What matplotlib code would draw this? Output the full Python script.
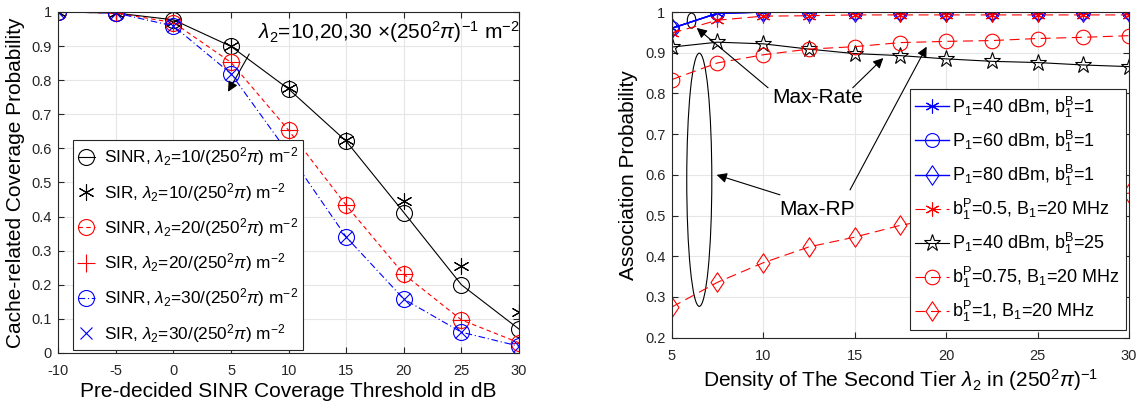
import numpy as np
import matplotlib
matplotlib.use("Agg")
import matplotlib.pyplot as plt
from matplotlib.patches import Ellipse
from matplotlib.path import Path

plt.rcParams['font.family'] = ['Liberation Sans', 'DejaVu Sans']
plt.rcParams['mathtext.fontset'] = 'custom'
plt.rcParams['mathtext.rm'] = 'Liberation Sans'
plt.rcParams['mathtext.it'] = 'Liberation Sans:italic'
plt.rcParams['axes.unicode_minus'] = False

# ---------------- Left chart data ----------------
thr_db = [-10, -5, 0, 5, 10, 15, 20, 25, 30]
sinr_10 = [1.0, 0.997, 0.977, 0.899, 0.774, 0.621, 0.412, 0.200, 0.070]
sir_10 = [1.0, 0.997, 0.972, 0.900, 0.776, 0.625, 0.445, 0.255, 0.120]
sinr_20 = [1.0, 0.997, 0.969, 0.852, 0.653, 0.433, 0.231, 0.097, 0.030]
sir_20 = [1.0, 0.997, 0.969, 0.852, 0.653, 0.433, 0.231, 0.097, 0.030]
sinr_30 = [1.0, 0.997, 0.959, 0.819, 0.585, 0.340, 0.158, 0.061, 0.020]
sir_30 = [1.0, 0.997, 0.959, 0.819, 0.585, 0.340, 0.158, 0.061, 0.020]
left_labels = [
    r'SINR, $\lambda_2$=10/(250$^2\pi$) m$^{-2}$',
    r'SIR, $\lambda_2$=10/(250$^2\pi$) m$^{-2}$',
    r'SINR, $\lambda_2$=20/(250$^2\pi$) m$^{-2}$',
    r'SIR, $\lambda_2$=20/(250$^2\pi$) m$^{-2}$',
    r'SINR, $\lambda_2$=30/(250$^2\pi$) m$^{-2}$',
    r'SIR, $\lambda_2$=30/(250$^2\pi$) m$^{-2}$',
]

# ---------------- Right chart data ----------------
density = [5, 7.5, 10, 12.5, 15, 17.5, 20, 22.5, 25, 27.5, 30]
p40_b1 = [0.960, 0.997, 1.0, 1.0, 1.0, 1.0, 1.0, 1.0, 1.0, 1.0, 1.0]
p60_b1 = [0.960, 0.997, 1.0, 1.0, 1.0, 1.0, 1.0, 1.0, 1.0, 1.0, 1.0]
p80_b1 = [0.960, 0.997, 1.0, 1.0, 1.0, 1.0, 1.0, 1.0, 1.0, 1.0, 1.0]
bp05 = [0.948, 0.980, 0.990, 0.991, 0.993, 0.993, 0.993, 0.993, 0.993, 0.993, 0.993]
p40_b25 = [0.914, 0.926, 0.922, 0.909, 0.898, 0.893, 0.885, 0.879, 0.876, 0.870, 0.866]
bp075 = [0.834, 0.875, 0.895, 0.909, 0.915, 0.925, 0.928, 0.930, 0.935, 0.938, 0.942]
bp1 = [0.275, 0.336, 0.384, 0.423, 0.447, 0.476, 0.497, 0.516, 0.531, 0.544, 0.555]
right_labels = [
    r'P$_1$=40 dBm, b$_1^{\mathrm{B}}$=1',
    r'P$_1$=60 dBm, b$_1^{\mathrm{B}}$=1',
    r'P$_1$=80 dBm, b$_1^{\mathrm{B}}$=1',
    r'b$_1^{\mathrm{P}}$=0.5, B$_1$=20 MHz',
    r'P$_1$=40 dBm, b$_1^{\mathrm{B}}$=25',
    r'b$_1^{\mathrm{P}}$=0.75, B$_1$=20 MHz',
    r'b$_1^{\mathrm{P}}$=1, B$_1$=20 MHz',
]

# tall diamond marker (as in the reference)
tall_diamond = Path([(0, 1.5), (1, 0), (0, -1.5), (-1, 0), (0, 1.5)],
                    [Path.MOVETO, Path.LINETO, Path.LINETO, Path.LINETO, Path.CLOSEPOLY])

fig = plt.figure(figsize=(11.45, 4.05), dpi=100)
axL = fig.add_axes([0.0509, 0.1284, 0.4024, 0.842])
axR = fig.add_axes([0.5866, 0.1662, 0.3994, 0.804])

lw = 0.8
msL = 11.5
# Left plot
axL.plot(thr_db, sinr_10, color='k', ls='-', lw=lw, marker='o', ms=msL, mfc='none', mew=lw, label=left_labels[0])
axL.plot(thr_db, sir_10, color='k', ls='none', marker=(6, 2, 0), ms=msL, mew=lw, label=left_labels[1])
axL.plot(thr_db, sinr_20, color='r', ls=(0, (4, 3)), lw=lw, marker='o', ms=msL, mfc='none', mew=lw, label=left_labels[2])
axL.plot(thr_db, sir_20, color='r', ls='none', marker='+', ms=msL + 1, mew=lw, label=left_labels[3])
axL.plot(thr_db, sinr_30, color='b', ls=(0, (6, 2.5, 1, 2.5)), lw=lw, marker='o', ms=msL, mfc='none', mew=lw, label=left_labels[4])
axL.plot(thr_db, sir_30, color='b', ls='none', marker='x', ms=msL - 2.5, mew=lw, label=left_labels[5])

axL.set_xlim(-10, 30)
axL.set_ylim(0, 1)
axL.set_xticks(np.arange(-10, 31, 5))
axL.set_yticks(np.arange(0, 1.01, 0.1))
axL.set_yticklabels(['0'] + ['%.1f' % v for v in np.arange(0.1, 0.95, 0.1)] + ['1'])
axL.set_xlabel('Pre-decided SINR Coverage Threshold in dB', fontsize=15, labelpad=3)
axL.set_ylabel('Cache-related Coverage Probability', fontsize=15, labelpad=5)
axL.annotate('', xy=(4.62, 0.759), xytext=(6.7, 0.884),
             arrowprops=dict(arrowstyle='-|>', color='k', lw=0.8, mutation_scale=15))
axL.text(7.36, 0.94, r'$\lambda_2$=10,20,30 $\times$(250$^2\pi$)$^{-1}$ m$^{-2}$', fontsize=15,
         va='center', ha='left', clip_on=False)
legL = axL.legend(loc='lower left', bbox_to_anchor=(0.031, 0.009), fontsize=12.4, frameon=True,
                  fancybox=False, edgecolor='#262626', framealpha=1, handlelength=1.0, handletextpad=0.5,
                  labelspacing=0.72, borderpad=0.3, borderaxespad=0)
legL.get_frame().set_linewidth(0.8)

# Right plot
dash_r = (0, (9, 5))
msR = 10
axR.plot(density, p40_b1, color='b', ls='-', lw=1.0, marker=(6, 2, 0), ms=msR, mew=lw, label=right_labels[0])
axR.plot(density, p60_b1, color='b', ls='-', lw=1.0, marker='o', ms=msR, mfc='none', mew=lw, label=right_labels[1])
axR.plot(density, p80_b1, color='b', ls='-', lw=1.0, marker=tall_diamond, ms=14, mfc='none', mew=lw, label=right_labels[2])
axR.plot(density, bp05, color='r', ls=dash_r, lw=lw, marker=(6, 2, 0), ms=msR, mew=lw, label=right_labels[3])
axR.plot(density, p40_b25, color='k', ls='-', lw=lw, marker='*', ms=12.5, mfc='none', mew=lw, label=right_labels[4])
axR.plot(density, bp075, color='r', ls=dash_r, lw=lw, marker='o', ms=msR + 0.5, mfc='none', mew=lw, label=right_labels[5])
axR.plot(density, bp1, color='r', ls=dash_r, lw=lw, marker=tall_diamond, ms=14, mfc='none', mew=lw, label=right_labels[6])

axR.set_xlim(5, 30)
axR.set_ylim(0.2, 1)
axR.set_xticks(np.arange(5, 31, 5))
axR.set_yticks(np.arange(0.2, 1.01, 0.1))
axR.set_yticklabels(['%.1f' % v for v in np.arange(0.2, 0.95, 0.1)] + ['1'])
axR.set_xlabel(r'Density of The Second Tier $\lambda_2$ in (250$^2\pi$)$^{-1}$', fontsize=15, labelpad=3)
axR.set_ylabel('Association Probability', fontsize=15, labelpad=5)

axR.add_patch(Ellipse((6.51, 0.588), 1.37, 0.622, fill=False, ec='k', lw=0.8))
axR.add_patch(Ellipse((6.09, 0.979), 0.47, 0.037, fill=False, ec='k', lw=0.8))
axR.text(12.97, 0.789, 'Max-Rate', fontsize=15, ha='center', va='center')
axR.text(12.97, 0.514, 'Max-RP', fontsize=15, ha='center', va='center')
ap = dict(arrowstyle='-|>', color='k', lw=0.8, mutation_scale=15, shrinkA=0, shrinkB=0)
axR.annotate('', xy=(6.37, 0.961), xytext=(10.27, 0.814), arrowprops=ap)
axR.annotate('', xy=(16.57, 0.887), xytext=(14.9, 0.814), arrowprops=ap)
axR.annotate('', xy=(7.46, 0.600), xytext=(10.92, 0.551), arrowprops=ap)
axR.annotate('', xy=(18.94, 0.915), xytext=(14.75, 0.563), arrowprops=ap)

legR = axR.legend(loc='lower left', bbox_to_anchor=(0.521, 0.024), fontsize=13, frameon=True,
                  fancybox=False, edgecolor='#262626', framealpha=1, handlelength=1.85, handletextpad=0.2,
                  labelspacing=0.5, borderpad=0.3, borderaxespad=0)
legR.get_frame().set_linewidth(0.8)

for ax in (axL, axR):
    ax.grid(True, color='#e6e6e6', lw=0.8)
    ax.set_axisbelow(True)
    ax.tick_params(direction='in', top=True, right=True, labelsize=10.5, length=4, width=0.8,
                   colors='#262626')
    ax.tick_params(axis='x', pad=8)
    ax.tick_params(axis='y', pad=4.5)
    for s in ax.spines.values():
        s.set_linewidth(0.8)
        s.set_color('#262626')

fig.savefig('out.png', dpi=100)
